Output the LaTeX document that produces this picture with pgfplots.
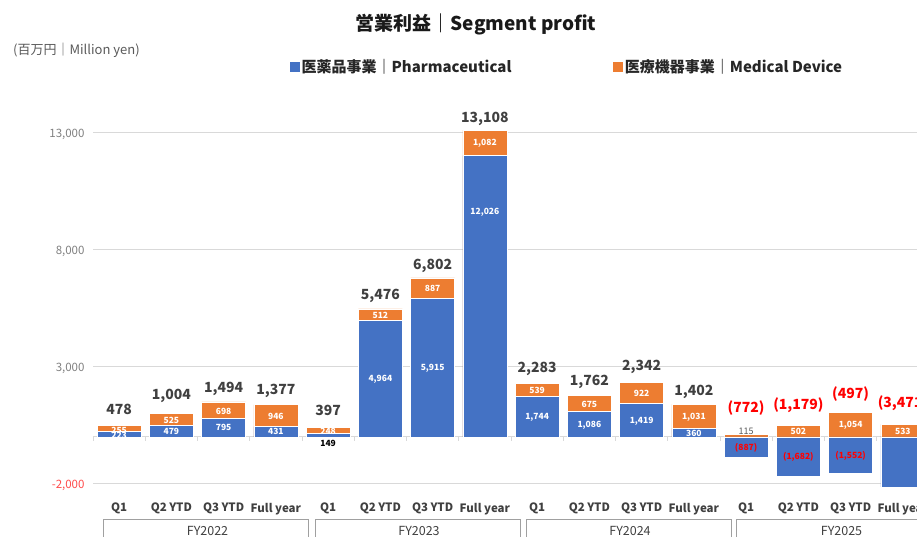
\documentclass[border=0pt]{standalone}
\usepackage{fontspec}
\setmainfont{Noto Sans CJK JP}
\usepackage{pgfplots}
\pgfplotsset{compat=1.18}
\usepackage{pgfplotstable}
\definecolor{pblue}{HTML}{4472C4}
\definecolor{morange}{HTML}{ED7D31}
\definecolor{gridgray}{HTML}{D9D9D9}
\definecolor{txtgray}{HTML}{404040}
\definecolor{tickgray}{HTML}{808080}
\definecolor{negred}{HTML}{FF0000}
\definecolor{tickred}{HTML}{FF4B4B}
\definecolor{boxgray}{HTML}{A0A0A0}

\pgfplotstableread{
x p m top
0 223 255 478
1 479 525 1004
2 795 698 1493
3 431 946 1377
4 149 248 397
5 4964 512 5476
6 5915 887 6802
7 12026 1082 13108
8 1744 539 2283
9 1086 675 1761
10 1419 922 2341
11 360 1031 1391
12 -887 115 115
13 -1682 502 502
14 -1552 1054 1054
15 -4004 533 533
}\datatable

\pgfplotstableread{
x y lab
0 40 223
1 239 479
2 397 795
3 215 431
5 2450 4,964
6 2930 5,915
7 9615 12,026
8 840 1,744
9 510 1,086
10 680 1,419
11 160 360
}\pwhite

\pgfplotstableread{
x y lab
12 -480 (887)
13 -870 (1,682)
14 -815 (1,552)
}\pred

\pgfplotstableread{
x y lab
4 -300 149
}\pblack

\pgfplotstableread{
x y lab
0 290 255
1 700 525
2 1100 698
3 870 946
4 230 248
5 5200 512
6 6350 887
7 12560 1,082
8 1980 539
9 1400 675
10 1850 922
11 840 1,031
13 220 502
14 490 1,054
15 240 533
}\mwhite

\pgfplotstableread{
x y lab
12 250 115
}\mgray

\pgfplotstableread{
x y lab
0 1176 478
1 1745 1,004
2 2044 1,494
3 1959 1,377
4 1116 397
5 6022 5,476
6 7305 6,802
7 13593 13,108
8 2887 2,283
9 2344 1,762
10 2973 2,342
11 1916 1,402
}\tgray

\pgfplotstableread{
x y lab
12 1245 (772)
13 1360 (1,179)
14 1831 (497)
15 1433 (3,471)
}\tred

\begin{document}
\begin{tikzpicture}
\path[use as bounding box] (0bp,0bp) rectangle (917bp,-537bp);
\clip (0bp,0bp) rectangle (917bp,-537bp);
\begin{axis}[
  at={(93bp,-486.6bp)}, anchor=south west,
  scale only axis, width=836bp, height=400.5bp,
  xmin=-0.5, xmax=15.5, ymin=-2130, ymax=15000,
  scaled y ticks=false,
  axis line style={draw=none},
  tick style={draw=none},
  ymajorgrids, grid style={gridgray, line width=0.8pt},
  extra y ticks={0}, extra y tick labels={},
  extra y tick style={grid style={gridgray, line width=0.8pt}},
  ytick={-2000,3000,8000,13000},
  yticklabels={{\textcolor{tickred}{-2,000}},{3,000},{8,000},{13,000}},
  yticklabel style={font=\fontsize{11.5bp}{13bp}\selectfont, text=tickgray, xshift=-5bp, yshift=-1.5bp},
  xtick={0,...,15},
  xticklabels={Q1,Q2 YTD,Q3 YTD,Full year,Q1,Q2 YTD,Q3 YTD,Full year,Q1,Q2 YTD,Q3 YTD,Full year,Q1,Q2 YTD,Q3 YTD,Full year},
  xticklabel style={font=\fontsize{11.5bp}{13bp}\selectfont\bfseries, text=txtgray, yshift=-13bp},
  legend columns=2,
  legend style={draw=none, fill=none, at={(0.2356,1.0477)}, anchor=west,
    font=\fontsize{15bp}{17bp}\selectfont\bfseries, text=black!85,
    inner sep=0pt,
    /tikz/every even column/.append style={column sep=100bp}},
  clip=true,
]
\addplot[ybar, bar width=44bp, bar shift=0pt, fill=morange, draw=white, line width=0.5pt, forget plot]
  table[x=x, y=top]{\datatable};
\addplot[ybar, bar width=44bp, bar shift=0pt, fill=pblue, draw=white, line width=0.5pt,
  legend image code/.code={\fill[pblue] (0bp,-4.5bp) rectangle (9bp,4.5bp);}]
  table[x=x, y=p]{\datatable};
\addlegendentry{医薬品事業｜Pharmaceutical}
\addlegendimage{legend image code/.code={\fill[morange] (0bp,-4.5bp) rectangle (9bp,4.5bp);}}
\addlegendentry{医療機器事業｜Medical Device}

\pgfplotsinvokeforeach{-0.5,0.5,...,15.5}{
  \draw[gridgray, line width=0.8pt] (axis cs:#1,0) -- ++(0bp,-4bp);
}

\addplot[only marks, mark=none, forget plot, nodes near coords, point meta=explicit symbolic,
  every node near coord/.append style={anchor=center, text=white, font=\fontsize{8.5bp}{10bp}\selectfont\bfseries}]
  table[x=x, y=y, meta=lab]{\pwhite};
\addplot[only marks, mark=none, forget plot, nodes near coords, point meta=explicit symbolic,
  every node near coord/.append style={anchor=center, text=negred, font=\fontsize{8.5bp}{10bp}\selectfont\bfseries}]
  table[x=x, y=y, meta=lab]{\pred};
\addplot[only marks, mark=none, forget plot, nodes near coords, point meta=explicit symbolic,
  every node near coord/.append style={anchor=center, text=black, font=\fontsize{8.5bp}{10bp}\selectfont\bfseries}]
  table[x=x, y=y, meta=lab]{\pblack};
\addplot[only marks, mark=none, forget plot, nodes near coords, point meta=explicit symbolic,
  every node near coord/.append style={anchor=center, text=white, font=\fontsize{8.5bp}{10bp}\selectfont\bfseries}]
  table[x=x, y=y, meta=lab]{\mwhite};
\addplot[only marks, mark=none, forget plot, nodes near coords, point meta=explicit symbolic,
  every node near coord/.append style={anchor=center, text=black!65, font=\fontsize{9bp}{10bp}\selectfont}]
  table[x=x, y=y, meta=lab]{\mgray};
\addplot[only marks, mark=none, forget plot, nodes near coords, point meta=explicit symbolic,
  every node near coord/.append style={anchor=center, text=txtgray, font=\fontsize{14bp}{16bp}\selectfont\bfseries}]
  table[x=x, y=y, meta=lab]{\tgray};
\addplot[only marks, mark=none, forget plot, nodes near coords, point meta=explicit symbolic,
  every node near coord/.append style={anchor=center, text=negred, font=\fontsize{14bp}{16bp}\selectfont\bfseries}]
  table[x=x, y=y, meta=lab]{\tred};
\end{axis}

\node[font=\fontsize{19bp}{22bp}\selectfont\bfseries, text=black!90] at (476bp,-24bp) {営業利益｜Segment profit};
\node[font=\fontsize{13bp}{15bp}\selectfont, text=black!65, anchor=west, inner sep=0pt] at (13bp,-50bp) {(百万円｜Million yen)};

\foreach \a/\b/\c/\t in {103/308/207.5/FY2022, 315/520/419/FY2023, 526/731/630/FY2024, 736/941/841.5/FY2025}{
  \draw[boxgray, line width=0.8pt] (\a bp,-519bp) rectangle (\b bp,-560bp);
  \node[font=\fontsize{12.5bp}{14bp}\selectfont, text=txtgray, anchor=base, inner sep=0pt] at (\c bp,-535bp) {\t};
}
\end{tikzpicture}
\end{document}
